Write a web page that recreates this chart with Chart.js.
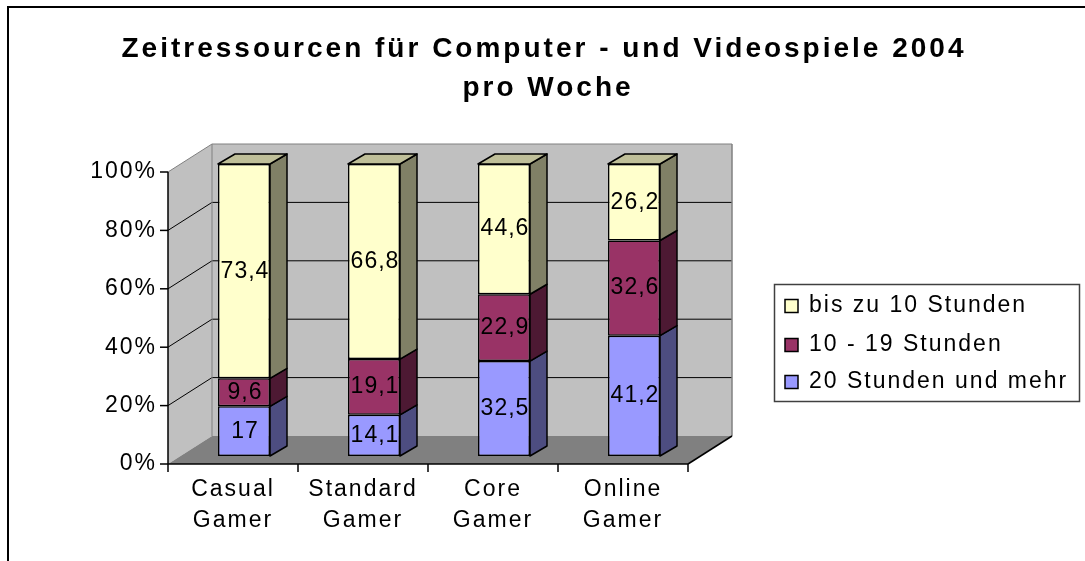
<!DOCTYPE html>
<html>
<head>
<meta charset="utf-8">
<script src="https://cdn.jsdelivr.net/npm/chart.js@4"></script>
<style>
  html, body { margin: 0; padding: 0; background: #fff; }
</style>
</head>
<body>
<canvas id="myChart" width="1085" height="561"></canvas>
<script>
// data (percent per gamer type)
const categories = [["Casual", "Gamer"], ["Standard", "Gamer"], ["Core", "Gamer"], ["Online", "Gamer"]];
const seriesNames = ["20 Stunden und mehr", "10 - 19 Stunden", "bis zu 10 Stunden"];
const hours20plus = [17, 14.1, 32.5, 41.2];
const hours10to19 = [9.6, 19.1, 22.9, 32.6];
const hoursUpTo10 = [73.4, 66.8, 44.6, 26.2];
const yTicks = [0, 20, 40, 60, 80, 100];
const titleLines = ["Zeitressourcen für Computer - und Videospiele 2004", "pro Woche"];

const FONT = "'Liberation Sans', Arial, sans-serif";
const frontColors = ["#9999ff", "#993366", "#ffffcc"];
const sideColors = ["#4d4d80", "#4d1933", "#808066"];
const topColors = ["#7373bf", "#73264d", "#bfbf99"];

// 3d offsets relative to the plane the bars are drawn in
const FRONT = { dx: -11, dy: 8 };
const BACK = { dx: 33, dy: -20 };
const DEPTH = { dx: 17, dy: -10 };

function poly(ctx, pts, fill, stroke, lw) {
  ctx.beginPath();
  ctx.moveTo(pts[0][0], pts[0][1]);
  for (let i = 1; i < pts.length; i++) ctx.lineTo(pts[i][0], pts[i][1]);
  ctx.closePath();
  if (fill) { ctx.fillStyle = fill; ctx.fill(); }
  if (stroke) { ctx.strokeStyle = stroke; ctx.lineWidth = lw || 1; ctx.stroke(); }
}
function line(ctx, a, b, color, lw) {
  ctx.beginPath();
  ctx.moveTo(a[0], a[1]);
  ctx.lineTo(b[0], b[1]);
  ctx.strokeStyle = color;
  ctx.lineWidth = lw || 1;
  ctx.stroke();
}

const chart3d = {
  id: "chart3d",
  beforeDraw(chart) {
    const ctx = chart.ctx;
    const xs = chart.scales.x, ys = chart.scales.y;
    const L = xs.left, R = xs.right;
    const y0 = ys.getPixelForValue(0), y100 = ys.getPixelForValue(100);
    const f = (x, y) => [x + FRONT.dx, y + FRONT.dy];
    const b = (x, y) => [x + BACK.dx, y + BACK.dy];
    ctx.save();
    // outer frame
    ctx.strokeStyle = "#000";
    ctx.lineWidth = 2;
    ctx.strokeRect(8, 7, 1200, 700);
    // walls + floor
    poly(ctx, [b(L, y100), b(R, y100), b(R, y0), b(L, y0)], "#c0c0c0");
    poly(ctx, [f(L, y100), b(L, y100), b(L, y0), f(L, y0)], "#c0c0c0");
    poly(ctx, [f(L, y0), f(R, y0), b(R, y0), b(L, y0)], "#808080");
    // gridlines
    yTicks.forEach((v) => {
      if (v === 0) return;
      const yv = ys.getPixelForValue(v);
      const col = v === 100 ? "#808080" : "#000";
      line(ctx, f(L, yv), b(L, yv), col, 1);
      line(ctx, b(L, yv), b(R, yv), col, 1);
    });
    line(ctx, b(L, y100), b(L, y0), "#808080", 1);
    line(ctx, b(R, y100), b(R, y0), "#808080", 1.5);
    // axes
    line(ctx, f(L, y100), f(L, y0), "#000", 1.5);
    line(ctx, f(L, y0), f(R, y0), "#000", 1.5);
    line(ctx, f(R, y0), b(R, y0), "#000", 1.5);
    yTicks.forEach((v) => {
      const p = f(L, ys.getPixelForValue(v));
      line(ctx, [p[0] - 8, p[1]], p, "#000", 1.5);
    });
    for (let i = 0; i <= categories.length; i++) {
      const p = f(L + (i * (R - L)) / categories.length, y0);
      line(ctx, p, [p[0], p[1] + 8], "#000", 1.5);
    }
    ctx.restore();
    ctx.letterSpacing = "2px";
  },
  afterDatasetsDraw(chart) {
    const ctx = chart.ctx;
    const n = chart.data.datasets.length;
    ctx.save();
    ctx.lineJoin = "round";
    chart.data.datasets.forEach((ds, d) => {
      const meta = chart.getDatasetMeta(d);
      meta.data.forEach((bar, i) => {
        const p = bar.getProps(["x", "y", "base", "width"], true);
        const left = p.x - p.width / 2, right = p.x + p.width / 2;
        const top = Math.min(p.y, p.base), bot = Math.max(p.y, p.base);
        poly(ctx, [[right, top], [right + DEPTH.dx, top + DEPTH.dy], [right + DEPTH.dx, bot + DEPTH.dy], [right, bot]], sideColors[d], "#000", 1.5);
        if (d === n - 1) {
          poly(ctx, [[left, top], [left + DEPTH.dx, top + DEPTH.dy], [right + DEPTH.dx, top + DEPTH.dy], [right, top]], topColors[d], "#000", 1.5);
        }
        ctx.fillStyle = "#000";
        ctx.font = "23px " + FONT;
        ctx.letterSpacing = "1px";
        ctx.textAlign = "center";
        ctx.textBaseline = "middle";
        ctx.fillText(String(ds.data[i]).replace(".", ","), p.x + 1, (top + bot) / 2);
      });
    });
    ctx.restore();
  },
  afterDraw(chart) {
    const ctx = chart.ctx;
    ctx.save();
    // title
    ctx.fillStyle = "#000";
    ctx.font = "bold 28px " + FONT;
    ctx.letterSpacing = "3px";
    ctx.textAlign = "center";
    ctx.textBaseline = "middle";
    ctx.fillText(titleLines[0], 544, 49);
    ctx.fillText(titleLines[1], 548, 88);
    // legend (top series first)
    ctx.letterSpacing = "2px";
    ctx.lineWidth = 1.5;
    ctx.strokeStyle = "#404040";
    ctx.strokeRect(774.5, 284.5, 305, 117);
    ctx.font = "23px " + FONT;
    ctx.textAlign = "left";
    const ys = [306, 345, 382];
    const order = chart.data.datasets.map((ds, d) => d).reverse();
    order.forEach((d, k) => {
      ctx.fillStyle = frontColors[d];
      ctx.fillRect(785, ys[k] - 6.5, 13, 13);
      ctx.strokeStyle = "#000";
      ctx.strokeRect(785, ys[k] - 6.5, 13, 13);
      ctx.fillStyle = "#000";
      ctx.fillText(chart.data.datasets[d].label, 809, ys[k]);
    });
    ctx.restore();
  }
};

const seriesValues = [hours20plus, hours10to19, hoursUpTo10];

new Chart(document.getElementById("myChart"), {
  type: "bar",
  data: {
    labels: categories,
    datasets: seriesValues.map((vals, d) => ({
      label: seriesNames[d],
      data: vals,
      backgroundColor: frontColors[d],
      borderColor: "#000",
      borderWidth: 1.5,
      borderSkipped: false,
      categoryPercentage: 1,
      barPercentage: 0.4,
    })),
  },
  options: {
    responsive: false,
    animation: false,
    layout: { padding: { top: 164, right: 386, bottom: 0, left: 0 } },
    plugins: {
      legend: { display: false },
      title: { display: false },
      tooltip: { enabled: false },
    },
    scales: {
      x: {
        stacked: true,
        grid: { display: false, drawTicks: false },
        border: { display: false },
        ticks: {
          color: "#000",
          font: { family: FONT, size: 23, lineHeight: 1.35 },
          padding: 18,
          labelOffset: -11,
          maxRotation: 0,
        },
        afterFit(scale) { scale.height = 105; },
      },
      y: {
        stacked: true,
        min: 0,
        max: 100,
        grid: { display: false, drawTicks: false },
        border: { display: false },
        ticks: {
          stepSize: 20,
          color: "#000",
          font: { family: FONT, size: 23 },
          padding: 22,
          labelOffset: 8,
          callback: (v) => v + "%",
        },
        afterFit(scale) { scale.width = 179; },
      },
    },
  },
  plugins: [chart3d],
});
</script>
</body>
</html>
